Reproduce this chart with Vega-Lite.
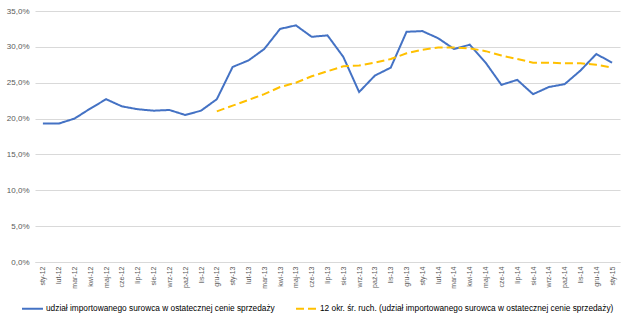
{
  "$schema": "https://vega.github.io/schema/vega-lite/v6.json",
  "width": 585,
  "height": 251,
  "padding": {"left": 6, "top": 7, "right": 6, "bottom": 4},
  "background": "white",
  "datasets": {
    "udzial": [
      {"m": "sty-12", "v": 0.193}, {"m": "lut-12", "v": 0.193}, {"m": "mar-12", "v": 0.200},
      {"m": "kwi-12", "v": 0.214}, {"m": "maj-12", "v": 0.227}, {"m": "cze-12", "v": 0.217},
      {"m": "lip-12", "v": 0.213}, {"m": "sie-12", "v": 0.211}, {"m": "wrz-12", "v": 0.212},
      {"m": "paź-12", "v": 0.205}, {"m": "lis-12", "v": 0.211}, {"m": "gru-12", "v": 0.227},
      {"m": "sty-13", "v": 0.272}, {"m": "lut-13", "v": 0.281}, {"m": "mar-13", "v": 0.297},
      {"m": "kwi-13", "v": 0.325}, {"m": "maj-13", "v": 0.330}, {"m": "cze-13", "v": 0.314},
      {"m": "lip-13", "v": 0.316}, {"m": "sie-13", "v": 0.286}, {"m": "wrz-13", "v": 0.237},
      {"m": "paź-13", "v": 0.260}, {"m": "lis-13", "v": 0.271}, {"m": "gru-13", "v": 0.321},
      {"m": "sty-14", "v": 0.322}, {"m": "lut-14", "v": 0.312}, {"m": "mar-14", "v": 0.297},
      {"m": "kwi-14", "v": 0.303}, {"m": "maj-14", "v": 0.278}, {"m": "cze-14", "v": 0.247},
      {"m": "lip-14", "v": 0.254}, {"m": "sie-14", "v": 0.234}, {"m": "wrz-14", "v": 0.244},
      {"m": "paź-14", "v": 0.248}, {"m": "lis-14", "v": 0.267}, {"m": "gru-14", "v": 0.290},
      {"m": "sty-15", "v": 0.278}
    ],
    "srednia": [
      {"m": "gru-12", "v": 0.210}, {"m": "sty-13", "v": 0.218}, {"m": "lut-13", "v": 0.226},
      {"m": "mar-13", "v": 0.234}, {"m": "kwi-13", "v": 0.244}, {"m": "maj-13", "v": 0.250},
      {"m": "cze-13", "v": 0.259}, {"m": "lip-13", "v": 0.266}, {"m": "sie-13", "v": 0.273},
      {"m": "wrz-13", "v": 0.274}, {"m": "paź-13", "v": 0.278}, {"m": "lis-13", "v": 0.283},
      {"m": "gru-13", "v": 0.291}, {"m": "sty-14", "v": 0.296}, {"m": "lut-14", "v": 0.299},
      {"m": "mar-14", "v": 0.299}, {"m": "kwi-14", "v": 0.298}, {"m": "maj-14", "v": 0.294},
      {"m": "cze-14", "v": 0.288}, {"m": "lip-14", "v": 0.283}, {"m": "sie-14", "v": 0.278},
      {"m": "wrz-14", "v": 0.278}, {"m": "paź-14", "v": 0.277}, {"m": "lis-14", "v": 0.277},
      {"m": "gru-14", "v": 0.275}, {"m": "sty-15", "v": 0.271}
    ]
  },
  "layer": [
    {
      "data": {"name": "udzial"},
      "mark": {"type": "line", "strokeWidth": 2},
      "encoding": {
        "x": {"field": "m", "type": "ordinal", "sort": null},
        "y": {"field": "v", "type": "quantitative"},
        "color": {"datum": "udział importowanego surowca w ostatecznej cenie sprzedaży"},
        "strokeDash": {"datum": "udział importowanego surowca w ostatecznej cenie sprzedaży"}
      }
    },
    {
      "data": {"name": "srednia"},
      "mark": {"type": "line", "strokeWidth": 2},
      "encoding": {
        "x": {"field": "m", "type": "ordinal", "sort": null},
        "y": {"field": "v", "type": "quantitative"},
        "color": {
          "datum": "12 okr. śr. ruch. (udział importowanego surowca w ostatecznej cenie sprzedaży)",
          "scale": {
            "domain": ["udział importowanego surowca w ostatecznej cenie sprzedaży", "12 okr. śr. ruch. (udział importowanego surowca w ostatecznej cenie sprzedaży)"],
            "range": ["#4472C4", "#FFC000"]
          },
          "legend": {"orient": "none", "legendX": -14, "legendY": 286, "direction": "horizontal"}
        },
        "strokeDash": {
          "datum": "12 okr. śr. ruch. (udział importowanego surowca w ostatecznej cenie sprzedaży)",
          "scale": {
            "domain": ["udział importowanego surowca w ostatecznej cenie sprzedaży", "12 okr. śr. ruch. (udział importowanego surowca w ostatecznej cenie sprzedaży)"],
            "range": [[1, 0], [8, 4]]
          },
          "legend": {"orient": "none", "legendX": -14, "legendY": 286, "direction": "horizontal"}
        }
      }
    }
  ],
  "config": {
    "font": "Liberation Sans",
    "view": {"stroke": null},
    "axisX": {
      "title": null,
      "labelAngle": -90,
      "labelFontSize": 7,
      "labelColor": "#595959",
      "domainColor": "#d9d9d9",
      "ticks": false,
      "labelPadding": 4,
      "grid": false
    },
    "axisY": {
      "title": null,
      "labelFontSize": 8,
      "labelColor": "#595959",
      "domain": false,
      "ticks": false,
      "gridColor": "#d9d9d9",
      "labelPadding": 6,
      "tickCount": 7,
      "labelExpr": "replace(format(datum.value, '.1%'), '.', ',')"
    },
    "legend": {
      "title": null,
      "labelFontSize": 8.3,
      "labelColor": "#000000",
      "labelLimit": 400,
      "labelOffset": 2,
      "symbolType": "stroke",
      "symbolSize": 440,
      "symbolStrokeWidth": 2,
      "columnPadding": 17,
      "padding": 0
    }
  }
}
